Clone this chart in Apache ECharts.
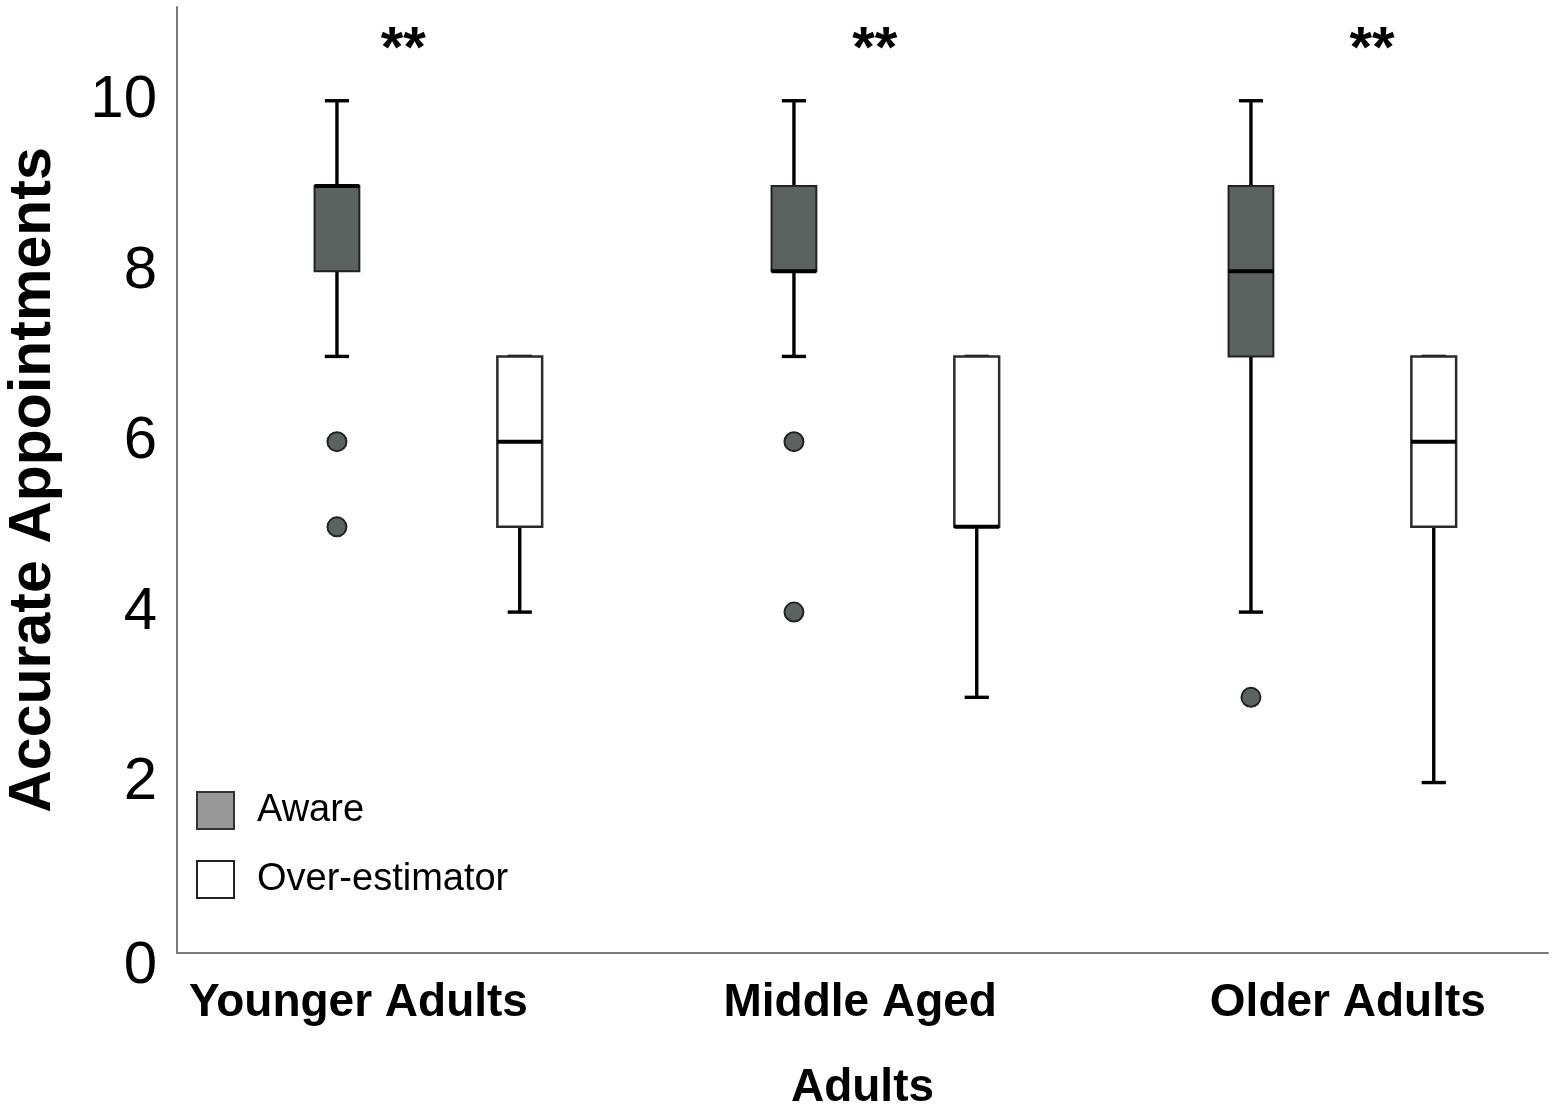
<!DOCTYPE html>
<html>
<head>
<meta charset="utf-8">
<style>
  html, body { margin: 0; padding: 0; background: #ffffff; }
  #chart { width: 1559px; height: 1108px; }
</style>
<script src="https://cdn.jsdelivr.net/npm/echarts@6/dist/echarts.min.js"></script>
</head>
<body>
<div id="chart"></div>
<script>
// ---- data ----
const groups = ['Younger Adults', 'Middle Aged', 'Older Adults'];
// [min, Q1, median, Q3, max]
const awareStats = [
  [7, 8, 9, 9, 10],
  [7, 8, 8, 9, 10],
  [4, 7, 8, 9, 10]
];
const overStats = [
  [4, 5, 6, 7, 7],
  [3, 5, 5, 7, 7],
  [2, 5, 6, 7, 7]
];
const awareOutliers = [
  [6, 5],
  [6, 4],
  [3]
];
const significance = ['**', '**', '**'];
const yTicks = [0, 2, 4, 6, 8, 10];

// ---- layout (x in group units: each group spans 10 units) ----
const GROUP_SPAN = 10;
const AWARE_OFF = 3.5, OVER_OFF = 7.5;
const labelOffsets = [3.97, 4.95, 5.62];
const sigOffsets = [4.95, 5.27, 6.15];
const SIG_Y = 10.58;

const FONT = "'Liberation Sans', Arial, Helvetica, sans-serif";

const awareData = awareStats.map((s, i) => [i * GROUP_SPAN + AWARE_OFF].concat(s));
const overData = overStats.map((s, i) => [i * GROUP_SPAN + OVER_OFF].concat(s));
const outlierData = [];
awareOutliers.forEach((arr, i) => arr.forEach(v => outlierData.push([i * GROUP_SPAN + AWARE_OFF, v])));
const labelPos = groups.map((g, i) => i * GROUP_SPAN + labelOffsets[i]);
const sigData = significance.map((s, i) => ({ value: [i * GROUP_SPAN + sigOffsets[i], SIG_Y], name: s }));

function boxRenderer(fill, boxStroke, boxLineWidth) {
  return function (params, api) {
    const x = api.value(0);
    const pMin = api.coord([x, api.value(1)]);
    const pQ1 = api.coord([x, api.value(2)]);
    const pMed = api.coord([x, api.value(3)]);
    const pQ3 = api.coord([x, api.value(4)]);
    const pMax = api.coord([x, api.value(5)]);
    const unit = api.size([1, 0])[0];
    const bw = unit * 0.98;
    const cw = unit * 0.53;
    const cx = pMin[0];
    const wStyle = { stroke: '#000', lineWidth: 3.4 };
    const children = [
      { type: 'line', shape: { x1: cx, y1: pMax[1], x2: cx, y2: pQ3[1] }, style: wStyle },
      { type: 'line', shape: { x1: cx, y1: pQ1[1], x2: cx, y2: pMin[1] }, style: wStyle },
      { type: 'line', shape: { x1: cx - cw / 2, y1: pMax[1], x2: cx + cw / 2, y2: pMax[1] }, style: wStyle },
      { type: 'line', shape: { x1: cx - cw / 2, y1: pMin[1], x2: cx + cw / 2, y2: pMin[1] }, style: wStyle },
      { type: 'rect', shape: { x: cx - bw / 2, y: pQ3[1], width: bw, height: pQ1[1] - pQ3[1] },
        style: { fill: fill, stroke: boxStroke, lineWidth: boxLineWidth } },
      { type: 'line', shape: { x1: cx - bw / 2, y1: pMed[1], x2: cx + bw / 2, y2: pMed[1] },
        style: { stroke: '#000', lineWidth: 4 } }
    ];
    return { type: 'group', children: children };
  };
}

function sigRenderer(params, api) {
  const p = api.coord([api.value(0), api.value(1)]);
  return {
    type: 'text',
    x: p[0],
    y: p[1],
    style: {
      text: significance[params.dataIndex],
      fill: '#000000',
      font: 'bold 58px ' + FONT,
      align: 'center',
      verticalAlign: 'middle'
    }
  };
}

const chart = echarts.init(document.getElementById('chart'), null, { renderer: 'canvas' });
const option = {
  backgroundColor: '#ffffff',
  animation: false,
  textStyle: { fontFamily: FONT },
  grid: { left: 177, right: 11, top: 7, bottom: 155, containLabel: false, outerBoundsMode: 'none' },
  legend: {
    orient: 'vertical',
    left: 196,
    top: 791,
    padding: 0,
    icon: 'rect',
    itemWidth: 37,
    itemHeight: 37,
    itemGap: 30,
    selectedMode: false,
    textStyle: { fontFamily: FONT, fontSize: 38, color: '#000', padding: [0, 0, 0, 18] },
    data: [
      { name: 'Aware', itemStyle: { color: '#999999', borderColor: '#333333', borderWidth: 2 } },
      { name: 'Over-estimator', itemStyle: { color: '#ffffff', borderColor: '#222222', borderWidth: 2 } }
    ]
  },
  xAxis: {
    type: 'value',
    min: 0,
    max: groups.length * GROUP_SPAN,
    splitLine: { show: false },
    axisTick: { show: false },
    axisLine: { show: true, lineStyle: { color: '#7a7a7a', width: 2 } },
    axisLabel: {
      customValues: labelPos,
      margin: 27,
      fontFamily: FONT,
      fontSize: 46,
      fontWeight: 'bold',
      color: '#000',
      formatter: function (v) {
        for (let i = 0; i < labelPos.length; i++) {
          if (Math.abs(labelPos[i] - v) < 0.01) return groups[i];
        }
        return '';
      }
    },
    name: 'Adults',
    nameLocation: 'middle',
    nameGap: 112,
    nameTextStyle: { fontFamily: FONT, fontSize: 46, fontWeight: 'bold', color: '#000' }
  },
  yAxis: {
    type: 'value',
    min: 0,
    max: 11.1,
    interval: 2,
    splitLine: { show: false },
    axisTick: { show: false },
    axisLine: { show: true, lineStyle: { color: '#7a7a7a', width: 2 } },
    axisLabel: {
      customValues: yTicks,
      margin: 20,
      fontFamily: FONT,
      fontSize: 60,
      color: '#000',
      formatter: function (v) { return v === 0 ? '{z|0}' : String(v); },
      rich: { z: { fontFamily: FONT, fontSize: 60, color: '#000', padding: [26, 0, 0, 0] } }
    },
    name: 'Accurate Appointments',
    nameLocation: 'middle',
    nameGap: 114,
    nameTextStyle: { fontFamily: FONT, fontSize: 59, fontWeight: 'bold', color: '#000' }
  },
  series: [
    {
      name: 'Aware',
      type: 'custom',
      renderItem: boxRenderer('#5b6360', '#222222', 2),
      encode: { x: 0, y: [1, 2, 3, 4, 5] },
      itemStyle: { color: '#999999' },
      data: awareData,
      z: 3
    },
    {
      name: 'Over-estimator',
      type: 'custom',
      renderItem: boxRenderer('#ffffff', '#2a2a2a', 2.5),
      encode: { x: 0, y: [1, 2, 3, 4, 5] },
      itemStyle: { color: '#ffffff' },
      data: overData,
      z: 3
    },
    {
      name: 'Aware outliers',
      type: 'scatter',
      symbol: 'circle',
      symbolSize: 19,
      itemStyle: { color: '#5b6360', borderColor: '#222222', borderWidth: 2, opacity: 1 },
      data: outlierData,
      z: 4
    },
    {
      name: 'Significance',
      type: 'custom',
      renderItem: sigRenderer,
      encode: { x: 0, y: 1 },
      data: sigData,
      z: 5
    }
  ]
};
chart.setOption(option);
</script>
</body>
</html>
